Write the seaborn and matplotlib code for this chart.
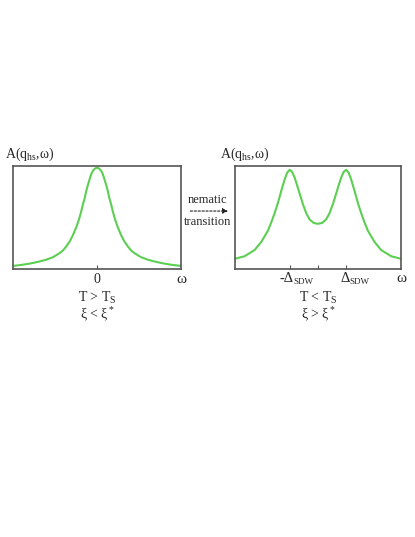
import pandas as pd
import matplotlib
matplotlib.use("Agg")
import matplotlib.pyplot as plt
import seaborn as sns

# spectral function (omega scaled to [-1, 1], A to [0, 1])
omega_left = [-1.0, -0.9, -0.805, -0.7, -0.607, -0.524, -0.444, -0.405, -0.364, -0.325, -0.286,
              -0.245, -0.215, -0.186, -0.167, -0.146, -0.126, -0.107, -0.087, -0.067, -0.048,
              -0.027, -0.012, 0.0,
              0.012, 0.027, 0.048, 0.067, 0.087, 0.107, 0.126, 0.146, 0.167, 0.186, 0.215,
              0.245, 0.286, 0.325, 0.364, 0.405, 0.444, 0.524, 0.607, 0.7, 0.805, 0.9, 1.0]
a_left = [0.03, 0.04, 0.052, 0.07, 0.09, 0.115, 0.155, 0.18, 0.222, 0.268, 0.33,
          0.41, 0.48, 0.565, 0.63, 0.69, 0.765, 0.82, 0.875, 0.925, 0.955,
          0.972, 0.98, 0.982,
          0.98, 0.972, 0.955, 0.925, 0.875, 0.82, 0.765, 0.69, 0.63, 0.565, 0.48,
          0.41, 0.33, 0.268, 0.222, 0.18, 0.155, 0.115, 0.09, 0.07, 0.052, 0.04, 0.03]

omega_right = [-1.0, -0.883, -0.763, -0.682, -0.602, -0.562, -0.522, -0.482, -0.441, -0.401,
               -0.371, -0.341, -0.311, -0.281, -0.251, -0.221, -0.181, -0.14, -0.1, -0.05, 0.0,
               0.05, 0.1, 0.14, 0.181, 0.221, 0.251, 0.281, 0.311, 0.341, 0.371, 0.401,
               0.441, 0.482, 0.522, 0.562, 0.602, 0.682, 0.763, 0.883, 1.0]
a_right = [0.095, 0.12, 0.18, 0.26, 0.37, 0.45, 0.54, 0.64, 0.76, 0.87,
           0.935, 0.965, 0.945, 0.89, 0.815, 0.735, 0.63, 0.54, 0.48, 0.445, 0.437,
           0.445, 0.48, 0.54, 0.63, 0.735, 0.815, 0.89, 0.945, 0.965, 0.935, 0.87,
           0.76, 0.64, 0.54, 0.45, 0.37, 0.26, 0.18, 0.12, 0.095]

ticks_left = [0.0]
ticklabels_left = ["0"]
ticks_right = [-0.341, 0.0, 0.341]
ticklabels_right = ["-\u0394", "", "\u0394"]
gap_subscript = "SDW"

sns.set_style("white")
plt.rcParams['font.family'] = ['Liberation Serif', 'DejaVu Serif']
plt.rcParams['mathtext.fontset'] = 'custom'
plt.rcParams['mathtext.rm'] = 'Liberation Serif'
plt.rcParams['mathtext.it'] = 'Liberation Serif'

green = "#5ccf52"
frame = "#555555"

fig = plt.figure(figsize=(4.15, 5.37), dpi=100)
ax1 = fig.add_axes([0.0313, 0.499, 0.405, 0.192])
ax2 = fig.add_axes([0.566, 0.500, 0.400, 0.1905])

df_l = pd.DataFrame({"omega": omega_left, "A": a_left})
df_r = pd.DataFrame({"omega": omega_right, "A": a_right})
sns.lineplot(data=df_l, x="omega", y="A", color=green, lw=1.5, ax=ax1)
sns.lineplot(data=df_r, x="omega", y="A", color=green, lw=1.5, ax=ax2)

for ax, t in [(ax1, ticks_left), (ax2, ticks_right)]:
    ax.set_xlim(-1, 1)
    ax.set_ylim(0, 1)
    ax.set_xlabel("")
    ax.set_ylabel("")
    ax.set_yticks([])
    ax.set_xticks(t)
    ax.set_xticklabels([])
    ax.tick_params(axis="x", direction="in", length=3, width=0.8, color=frame, bottom=True)
    for s in ax.spines.values():
        s.set_color(frame)
        s.set_linewidth(1.2)
    ax.text(1.005, -0.1, r"$\omega$", transform=ax.transAxes, fontsize=11, ha="center", va="center")

ax1.text(-0.05, 1.03, r"A(q$_{\rm hs}$,$\omega$)", transform=ax1.transAxes, fontsize=10,
         ha="left", va="bottom")
ax2.text(-0.09, 1.03, r"A(q$_{\rm hs}$,$\omega$)", transform=ax2.transAxes, fontsize=10,
         ha="left", va="bottom")

# tick labels, with the Delta sitting on the tick and a small SDW subscript
ax1.text(ticks_left[0], -0.1, ticklabels_left[0], transform=ax1.get_xaxis_transform(),
         fontsize=10, ha="center", va="center")
xt = ax2.get_xaxis_transform()
for pos, lab in [(ticks_right[0], ticklabels_right[0]), (ticks_right[2], ticklabels_right[2])]:
    ax2.annotate(lab, (pos, -0.1), xycoords=xt, xytext=(3.5, 0), textcoords="offset pixels",
                 fontsize=10.5, ha="right", va="center")
    ax2.annotate(gap_subscript, (pos, -0.1), xycoords=xt, xytext=(3.5, -3), textcoords="offset pixels",
                 fontsize=6.5, ha="left", va="center")

fig.text(0.234, 0.445, r"T > T$_{\rm S}$", ha="center", va="center", fontsize=10)
fig.text(0.234, 0.413, r"$\xi$ < $\xi^{*}$", ha="center", va="center", fontsize=10)
fig.text(0.767, 0.445, r"T < T$_{\rm S}$", ha="center", va="center", fontsize=10)
fig.text(0.767, 0.413, r"$\xi$ > $\xi^{*}$", ha="center", va="center", fontsize=10)

fig.text(0.501, 0.627, "nematic", ha="center", va="center", fontsize=9)
fig.text(0.501, 0.586, "transition", ha="center", va="center", fontsize=9)
fig.add_artist(matplotlib.patches.FancyArrowPatch((0.452, 0.607), (0.556, 0.607), transform=fig.transFigure,
                                                  arrowstyle="-|>,head_length=3,head_width=1.5",
                                                  linestyle=(0, (2, 1.5)), lw=0.8, color="#222222"))

plt.savefig("out.png", dpi=100)
